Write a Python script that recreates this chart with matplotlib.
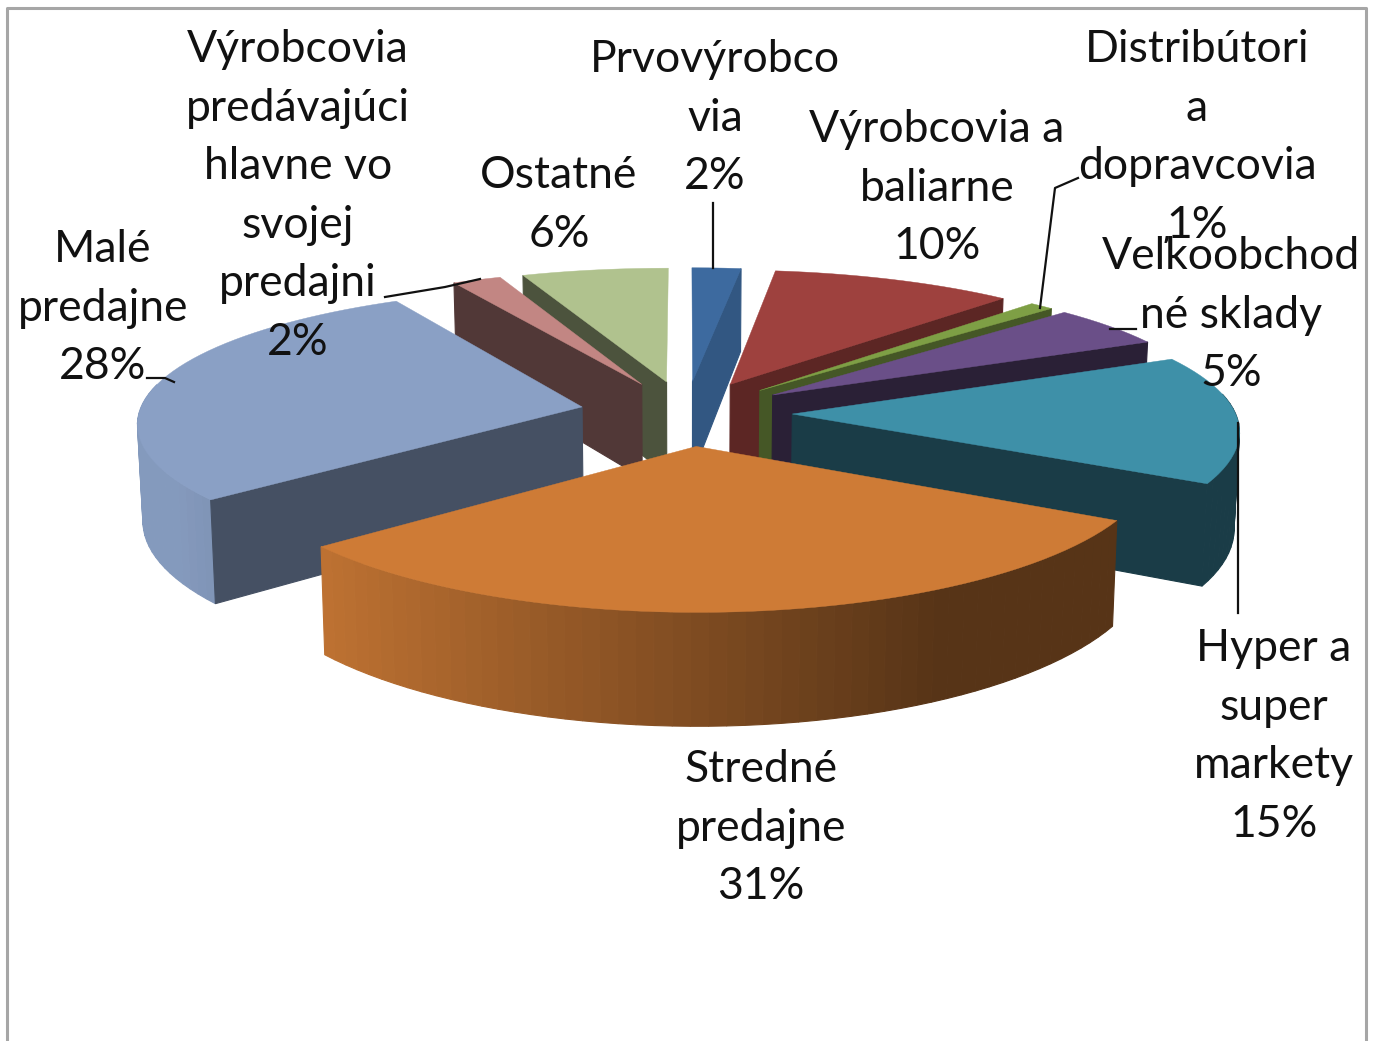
import numpy as np
import matplotlib
matplotlib.use('Agg')
import matplotlib.pyplot as plt
from matplotlib.colors import to_rgb

# data, clockwise from 12 o'clock
names = ['Prvovýrobco\nvia', 'Výrobcovia a\nbaliarne', 'Distribútori\na\ndopravcovia',
         'Veľkoobchod\nné sklady', 'Hyper a\nsuper\nmarkety', 'Stredné\npredajne',
         'Malé\npredajne', 'Výrobcovia\npredávajúci\nhlavne vo\nsvojej\npredajni', 'Ostatné']
shares = [2, 10, 1, 5, 15, 31, 28, 2, 6]

top_colors = ['#3D6A9F', '#9E413E', '#7E9F45', '#6A4F88', '#3E90A8',
              '#CE7B36', '#8AA0C5', '#C28683', '#B0C28E']
wall_shade = [0.82, 0.58, 0.55, 0.40, 0.42, 0.42, 0.50, 0.42, 0.43]

# centre x and first baseline of every label
label_pos = [(715, 72), (937, 142), (1197, 62), (1231, 269), (1274, 661),
             (761, 782), (103, 262), (298, 62), (559, 188)]
line_step = 58.6

# leader lines
leaders = [[(713, 203), (713, 268)],
           [(1040, 308), (1055, 188), (1078, 178)],
           [(1110, 329), (1136, 329)],
           [(147, 378), (165, 378), (174, 382)],
           [(385, 297), (445, 287), (480, 279)],
           [(1238, 423), (1238, 613)]]

# projection of the pie plane
CX, CY = 686, 413
RX, RY = 443, 135.6
PERSP_X = 0.105
PERSP_Y = 0.127
THICK = 96
EXPLODE = 0.24


def project(x, y, bottom=False):
    w = 1 - PERSP_Y * y
    sx = RX * x / (1 - PERSP_X * y)
    sy = CY + RY * y / w
    if bottom:
        sx = sx * 0.99
        sy = sy + THICK / w
    return CX + sx, sy


def shade(color, f):
    return tuple(c * f for c in to_rgb(color))


def draw_wall(ax, p0, p1, color):
    x0, y0 = p0
    x1, y1 = p1
    a = project(x0, y0)
    b = project(x1, y1)
    c = project(x1, y1, True)
    d = project(x0, y0, True)
    ax.fill([a[0], b[0], c[0], d[0]], [a[1], b[1], c[1], d[1]], color=color, lw=0.8, zorder=2)


def draw_slice(ax, i, start, end):
    mid = (start + end) / 2
    ex = EXPLODE * np.sin(mid)
    ey = -EXPLODE * np.cos(mid)
    ang = np.linspace(start, end, max(int(np.degrees(end - start) / 2), 4))
    xs = ex + np.sin(ang)
    ys = ey - np.cos(ang)
    color = top_colors[i]
    wall = shade(color, wall_shade[i])

    # rounded side first
    for k in range(len(ang) - 1):
        if np.cos(ang[k]) < 0.15:
            f = np.clip(0.62 - 0.40 * np.sin(ang[k]), wall_shade[i], 0.96)
            draw_wall(ax, (xs[k], ys[k]), (xs[k + 1], ys[k + 1]), shade(color, f))

    # only the cut faces turned to the viewer
    if np.sin(start) < -1e-6:
        draw_wall(ax, (ex, ey), (xs[0], ys[0]), wall)
    if np.sin(end) > 1e-6:
        draw_wall(ax, (ex, ey), (xs[-1], ys[-1]), wall)

    tx, ty = project(np.r_[ex, xs], np.r_[ey, ys])
    ax.fill(tx, ty, color=color, lw=0.3, zorder=2)


fig = plt.figure(figsize=(13.78, 10.41), dpi=100)
ax = fig.add_axes([0, 0, 1, 1])
ax.set_xlim(0, 1378)
ax.set_ylim(1041, 0)
ax.axis('off')

edges = 2 * np.pi * np.cumsum([0] + shares) / sum(shares)
# back slices first
order = sorted(range(len(shares)), key=lambda i: -np.cos((edges[i] + edges[i + 1]) / 2))
for i in order:
    draw_slice(ax, i, edges[i], edges[i + 1])

for pts in leaders:
    ax.plot([p[0] for p in pts], [p[1] for p in pts], color='#111111', lw=1.6, zorder=3)

for name, value, (x, y) in zip(names, shares, label_pos):
    lines = name.split('\n') + [f'{value}%']
    for n, line in enumerate(lines):
        ax.text(x, y + n * line_step, line, ha='center', va='baseline', fontsize=32,
                family='Lato', color='#111111', zorder=4)

# chart frame
ax.plot([7, 7, 1366, 1366], [1041, 8, 8, 1041], color='#A6A6A6', lw=2.2, zorder=1)

fig.savefig('out.png', dpi=100)
